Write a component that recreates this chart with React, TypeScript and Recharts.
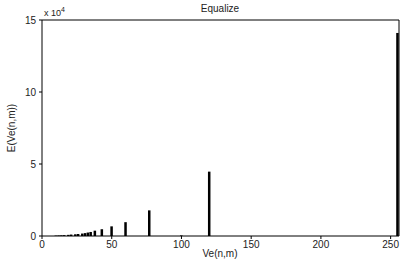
import { ComposedChart, Bar, XAxis, YAxis } from "recharts";

// gray levels after equalization and their pixel counts
const levels = [10, 12, 14, 16, 19, 21, 24, 26, 29, 31, 33, 35, 38, 43, 50, 60, 77, 100, 120, 255];
const counts = [300, 400, 500, 600, 800, 1000, 1200, 1400, 1700, 2000, 2400, 2800, 3700, 4700, 6700, 9600, 17800, 400, 44700, 141000];

const xTicks = [0, 50, 100, 150, 200, 250];
const yTicks = [0, 50000, 100000, 150000];

const data = levels.map((v, i) => ({ x: v, y: counts[i] }));

const font = "'Liberation Sans', Arial, sans-serif";

export default function App() {
  return (
    <div style={{ position: "absolute", left: 0, top: 0, width: 400, height: 261, background: "#fff", fontFamily: font }}>
      <ComposedChart
        width={400}
        height={261}
        data={data}
        margin={{ top: 20, right: 1, bottom: 0, left: 0 }}
      >
        <XAxis
          xAxisId="b"
          dataKey="x"
          type="number"
          domain={[0, 256]}
          ticks={xTicks}
          height={25}
          tickSize={3}
          tickMargin={2}
          interval={0}
          stroke="#000"
          tick={{ fill: "#222", fontSize: 10, fontFamily: font }}
        />
        {/* mirrored top/right axes close the box with inward ticks */}
        <XAxis
          xAxisId="t"
          dataKey="x"
          type="number"
          orientation="top"
          domain={[0, 256]}
          ticks={xTicks}
          height={20}
          mirror
          tickSize={3}
          tick={false}
          stroke="#000"
        />
        <YAxis
          yAxisId="l"
          type="number"
          domain={[0, 150000]}
          ticks={yTicks}
          width={42}
          tickSize={3}
          tickMargin={3}
          interval={0}
          stroke="#000"
          tickFormatter={(v: number) => String(v / 10000)}
          tick={{ fill: "#222", fontSize: 10, fontFamily: font }}
        />
        <YAxis
          yAxisId="r"
          orientation="right"
          type="number"
          domain={[0, 150000]}
          ticks={yTicks}
          mirror
          tickSize={3}
          tick={false}
          stroke="#000"
        />
        <Bar
          xAxisId="b"
          yAxisId="l"
          dataKey="y"
          fill="#000"
          barSize={3}
          isAnimationActive={false}
        />
        <Bar
          xAxisId="t"
          yAxisId="r"
          dataKey="y"
          fill="none"
          barSize={3}
          legendType="none"
          isAnimationActive={false}
        />
        <text x={220} y={12} textAnchor="middle" fontSize={10} fill="#222" fontFamily={font}>
          Equalize
        </text>
        <text x={44} y={16} fontSize={9} fill="#222" fontFamily={font}>
          x 10<tspan dy={-4} fontSize={7}>4</tspan>
        </text>
        <text x={220} y={257} textAnchor="middle" fontSize={10} fill="#222" fontFamily={font}>
          Ve(n,m)
        </text>
        <text
          x={15}
          y={128}
          textAnchor="middle"
          fontSize={10}
          fill="#222"
          fontFamily={font}
          transform="rotate(-90 15 128)"
        >
          E(Ve(n,m))
        </text>
      </ComposedChart>
    </div>
  );
}
